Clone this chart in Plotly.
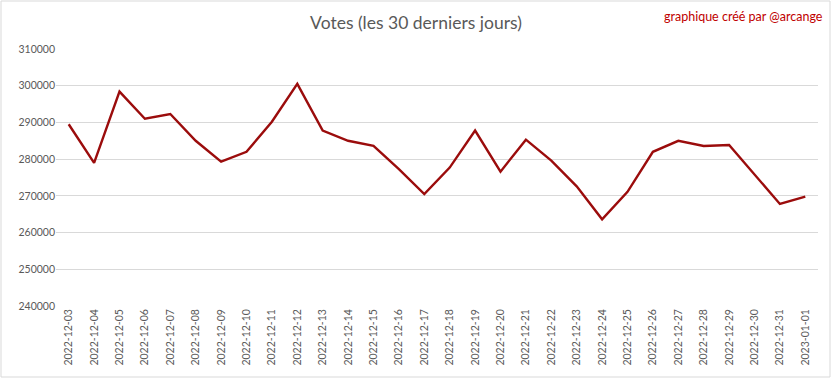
import plotly.graph_objects as go

dates = ["2022-12-03", "2022-12-04", "2022-12-05", "2022-12-06", "2022-12-07", "2022-12-08",
         "2022-12-09", "2022-12-10", "2022-12-11", "2022-12-12", "2022-12-13", "2022-12-14",
         "2022-12-15", "2022-12-16", "2022-12-17", "2022-12-18", "2022-12-19", "2022-12-20",
         "2022-12-21", "2022-12-22", "2022-12-23", "2022-12-24", "2022-12-25", "2022-12-26",
         "2022-12-27", "2022-12-28", "2022-12-29", "2022-12-30", "2022-12-31", "2023-01-01"]
votes = [289500, 279000, 298400, 291000, 292300, 285000,
         279300, 282000, 290200, 300500, 287800, 285000,
         283600, 277300, 270500, 277700, 287800, 276600,
         285300, 279600, 272600, 263600, 271100, 282000,
         285000, 283600, 283850, 275900, 267800, 269800]
y_ticks = [240000, 250000, 260000, 270000, 280000, 290000, 300000, 310000]

W, H = 832, 379
ml, mr, mt, mb = 56, 14, 49, 73

fig = go.Figure()
fig.add_trace(go.Scatter(
    x=dates, y=votes, mode="lines",
    line=dict(color="#9B0C0C", width=2.4),
    showlegend=False, hoverinfo="x+y",
))

pw = W - ml - mr
ph = H - mt - mb
fig.update_layout(
    width=W, height=H,
    margin=dict(l=ml, r=mr, t=mt, b=mb, autoexpand=False),
    paper_bgcolor="white", plot_bgcolor="white",
    font=dict(family="Lato, 'Open Sans', sans-serif", color="#595959", size=11),
    title=dict(text="Votes (les 30 derniers jours)", x=0.5, xanchor="center",
               y=1 - 23 / H, yanchor="middle",
               font=dict(size=17.5, color="#595959")),
    xaxis=dict(type="category", tickangle=-90, showgrid=False, showline=False,
               ticks="", tickfont=dict(size=10.5, color="#595959"), automargin=False,
               range=[-0.5, len(dates) - 0.5], fixedrange=True),
    yaxis=dict(range=[240000, 310000], tickvals=y_ticks,
               ticktext=[str(v) for v in y_ticks], automargin=False,
               showgrid=True, gridcolor="#D9D9D9", gridwidth=1,
               zeroline=False, showline=False, ticks="",
               tickfont=dict(size=10.5, color="#595959"), fixedrange=True),
    annotations=[dict(text="graphique créé par @arcange", xref="paper", yref="paper",
                      x=(825 - ml) / pw, y=1 + (mt - 16) / ph, xanchor="right",
                      yanchor="middle", showarrow=False,
                      font=dict(size=12.5, color="#C00000"))],
    shapes=[dict(type="rect", xref="paper", yref="paper",
                 x0=(1 - ml) / pw, x1=(W - 2 - ml) / pw,
                 y0=-(mb - 2) / ph, y1=1 + (mt - 1) / ph,
                 line=dict(color="#D9D9D9", width=1), layer="below")],
)

fig.write_html(
    "out.html",
    config={"displayModeBar": False},
    post_script="document.body.style.margin='0';document.body.style.overflow='hidden';",
)
